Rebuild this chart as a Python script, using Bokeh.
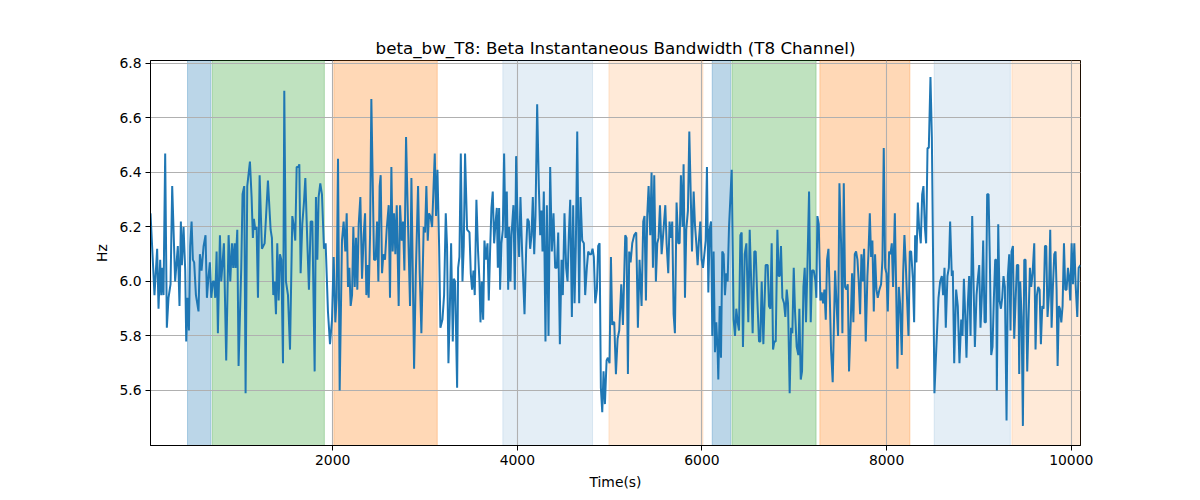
from bokeh.plotting import figure
from bokeh.models import Range1d, BoxAnnotation, FixedTicker
from bokeh.embed import file_html
from bokeh.resources import INLINE

# ---- data: time (s) and beta bandwidth (Hz) ----
t1 = [27, 56, 70, 99, 114, 132, 143, 157, 168, 186, 204, 222, 244, 262, 294, 323, 341, 356, 367, 385,
      403, 414, 428, 443, 457, 472, 486, 500, 519, 547, 562, 580, 602, 623, 638, 656, 670, 685, 703, 717,
      728, 743, 757, 779, 793, 808, 822, 847, 873, 891, 909, 923, 938, 948, 967, 981, 1010, 1024, 1042, 1057,
      1075, 1104, 1122, 1136, 1147, 1162, 1176, 1191, 1209, 1234]
v1 = [6.25, 6.05, 5.95, 6.12, 5.90, 6.08, 5.95, 6.05, 5.95, 6.47, 5.83, 5.94, 5.99, 6.35, 6.00, 6.13, 5.91, 6.22, 6.06, 6.20,
      6.04, 5.78, 5.94, 5.82, 6.13, 6.22, 6.08, 6.07, 5.95, 5.89, 6.10, 6.04, 6.13, 6.17, 5.94, 6.02, 6.07, 5.94, 6.00, 6.00,
      5.94, 6.11, 5.81, 6.17, 6.00, 6.07, 6.14, 5.71, 6.17, 6.00, 6.14, 6.05, 6.14, 6.05, 6.19, 5.69, 6.05, 6.32, 6.35, 5.59,
      6.35, 6.44, 6.31, 6.16, 6.23, 6.19, 6.20, 5.94, 6.39, 6.12]

t2 = [1263, 1299, 1328, 1342, 1357, 1371, 1386, 1400, 1415, 1429, 1444, 1462, 1476, 1494, 1516, 1538, 1563, 1581, 1595, 1610,
      1628, 1639, 1653, 1671, 1689, 1704, 1725, 1743, 1762, 1780, 1805, 1819, 1834, 1848, 1866, 1884, 1906, 1924, 1949, 1971,
      1993, 2011, 2029, 2043, 2058, 2076, 2101, 2119, 2137, 2152, 2166, 2181, 2195, 2210, 2224, 2239, 2253, 2267, 2282, 2300,
      2318, 2336, 2351, 2365, 2380, 2390, 2405, 2419, 2448, 2466, 2481, 2495, 2509]
v2 = [6.14, 6.37, 6.19, 6.16, 5.95, 6.00, 5.88, 6.14, 5.93, 6.10, 6.08, 5.70, 6.70, 6.00, 5.95, 5.75, 6.24, 6.20, 6.15, 6.42,
      6.42, 6.43, 6.03, 6.21, 6.29, 6.38, 6.15, 5.97, 6.22, 6.22, 5.67, 6.31, 6.08, 6.31, 6.36, 6.32, 6.12, 6.14, 5.89, 5.77,
      5.86, 6.09, 5.85, 5.94, 6.45, 5.60, 6.15, 6.22, 6.11, 6.25, 5.98, 6.05, 5.91, 5.95, 6.20, 5.98, 6.16, 5.97, 6.21, 6.31,
      6.01, 6.17, 6.25, 5.95, 6.06, 5.94, 6.17, 6.67, 6.08, 6.08, 6.22, 6.00, 6.35]

t3 = [2520, 2535, 2549, 2567, 2585, 2607, 2621, 2636, 2650, 2665, 2679, 2694, 2715, 2730, 2748, 2762, 2777, 2795, 2817, 2838,
      2853, 2867, 2882, 2900, 2925, 2943, 2961, 2986, 3001, 3015, 3030, 3044, 3059, 3077, 3091, 3106, 3120, 3135, 3153, 3167,
      3189, 3207, 3225, 3239, 3254, 3268, 3283, 3301, 3312, 3326, 3348, 3359, 3373, 3388, 3406, 3420, 3434, 3456, 3482, 3496,
      3510, 3525, 3539, 3557, 3575, 3590, 3601, 3615, 3630, 3644, 3659, 3677, 3691, 3705, 3720, 3734, 3749, 3763]
v3 = [6.39, 6.03, 6.10, 6.08, 6.19, 6.28, 5.94, 6.42, 6.11, 6.25, 6.10, 6.28, 5.91, 6.28, 6.15, 6.22, 6.04, 6.53, 6.20, 5.91,
      6.38, 6.05, 5.68, 6.02, 6.35, 6.03, 5.81, 6.20, 6.18, 6.35, 6.15, 6.25, 6.24, 6.20, 6.33, 6.47, 6.24, 6.41, 6.13, 5.83,
      5.86, 5.95, 6.25, 6.13, 5.70, 5.88, 6.14, 5.78, 6.01, 6.00, 5.61, 6.05, 6.09, 6.47, 6.00, 6.13, 6.47, 6.19, 6.18, 6.03,
      5.97, 6.04, 5.95, 6.30, 6.11, 6.00, 5.85, 6.00, 5.86, 6.15, 6.08, 6.14, 5.93, 6.11, 6.27, 6.33, 6.14, 6.21]

t4 = [3778, 3789, 3803, 3814, 3828, 3843, 3857, 3872, 3886, 3901, 3912, 3926, 3937, 3958, 3973, 3987, 4005, 4020, 4034, 4052,
      4078, 4096, 4110, 4125, 4139, 4154, 4168, 4183, 4197, 4215, 4233, 4248, 4262, 4273, 4287, 4305, 4320, 4338, 4356, 4374,
      4392, 4410, 4428, 4443, 4461, 4479, 4493, 4511, 4529, 4544, 4558, 4573, 4591, 4605, 4620, 4634, 4649, 4670, 4685, 4703,
      4721, 4735, 4753, 4768, 4782, 4800, 4815, 4829, 4844, 4862, 4876, 4891, 4905, 4920, 4934, 4949, 4967, 4981, 4999, 5014,
      5028]
v4 = [6.27, 6.05, 6.27, 5.97, 6.14, 6.19, 6.47, 6.16, 6.33, 5.97, 6.20, 6.00, 6.17, 6.28, 5.97, 6.46, 6.19, 6.09, 6.31, 6.11,
      5.88, 6.12, 6.23, 6.22, 6.12, 6.17, 6.31, 6.10, 6.24, 6.65, 6.35, 6.17, 6.26, 6.11, 6.33, 5.78, 6.28, 5.80, 6.42, 6.11,
      6.25, 6.05, 6.05, 6.18, 5.77, 6.08, 5.95, 6.25, 6.05, 6.00, 6.17, 6.30, 5.87, 6.28, 5.92, 6.13, 6.55, 5.92, 6.31, 6.15,
      6.14, 5.95, 6.05, 6.11, 6.10, 6.10, 6.12, 6.09, 5.92, 5.97, 6.13, 6.14, 5.61, 5.52, 5.67, 5.55, 5.71, 5.72, 5.70, 6.09,
      5.84]

t5 = [5035, 5050, 5068, 5086, 5104, 5126, 5144, 5169, 5183, 5198, 5212, 5227, 5245, 5266, 5288, 5306, 5324, 5346, 5364, 5378,
      5393, 5407, 5422, 5440, 5454, 5469, 5483, 5501, 5516, 5530, 5545, 5563, 5577, 5603, 5617, 5635, 5649, 5664, 5678, 5693,
      5707, 5725, 5743, 5758, 5772, 5790, 5801, 5816, 5830, 5848, 5863, 5881, 5892, 5910, 5924, 5939, 5953, 5967, 5982, 5996,
      6011, 6029, 6040, 6054, 6069, 6083, 6098, 6112, 6126, 6141, 6155, 6170, 6177, 6192, 6206, 6220, 6235, 6249, 6264, 6278,
      6293]
v5 = [5.85, 5.85, 5.66, 5.79, 5.82, 5.99, 5.84, 6.17, 6.16, 5.66, 6.11, 6.07, 6.14, 6.17, 6.18, 5.83, 6.08, 5.91, 6.22, 6.24,
      5.93, 6.24, 6.35, 6.17, 6.40, 6.05, 6.39, 6.00, 6.14, 6.16, 6.28, 6.10, 6.16, 6.28, 6.14, 6.03, 6.22, 6.16, 6.22, 5.88,
      5.81, 6.29, 6.14, 6.14, 6.39, 6.20, 6.43, 5.94, 6.19, 6.26, 6.55, 6.28, 6.11, 6.33, 6.21, 6.14, 6.06, 6.15, 6.22, 6.08,
      6.05, 6.11, 6.15, 6.42, 5.96, 6.19, 6.22, 5.80, 6.11, 5.74, 5.85, 5.74, 5.64, 5.91, 5.72, 6.11, 6.10, 5.95, 6.03, 6.00,
      6.20]

t6 = [6322, 6343, 6358, 6372, 6387, 6401, 6416, 6430, 6444, 6463, 6481, 6502, 6517, 6535, 6549, 6567, 6582, 6600, 6618, 6632,
      6647, 6665, 6690, 6712, 6726, 6741, 6755, 6770, 6784, 6799, 6817, 6831, 6842, 6856, 6871, 6889, 6903, 6918, 6932, 6950,
      6965, 6979, 6994, 7008, 7026, 7044, 7055, 7070, 7084, 7099, 7113, 7127, 7142, 7160, 7178, 7192, 7211, 7229, 7239, 7250,
      7265, 7283, 7297, 7312, 7326, 7341, 7355, 7370, 7384, 7398, 7416, 7442, 7456, 7474, 7489, 7507, 7521, 7536]
v6 = [6.41, 5.86, 5.80, 5.90, 5.85, 5.82, 6.17, 6.18, 5.76, 6.10, 6.14, 5.85, 6.19, 5.98, 5.81, 6.11, 6.11, 5.93, 5.78, 5.78,
      6.00, 5.77, 6.06, 6.06, 5.91, 5.90, 6.14, 5.75, 5.78, 5.78, 6.19, 6.02, 6.02, 6.13, 5.94, 5.92, 5.87, 5.97, 5.92, 5.59,
      5.83, 5.81, 6.05, 5.89, 5.76, 5.73, 5.90, 5.64, 5.67, 5.98, 6.05, 5.85, 6.05, 6.33, 5.85, 6.04, 6.04, 6.00, 5.94, 6.24,
      6.21, 5.93, 5.96, 5.92, 5.97, 5.86, 6.08, 6.12, 5.95, 5.75, 5.63, 6.04, 5.93, 5.80, 6.36, 6.14, 5.81, 6.36]

t7 = [7550, 7565, 7579, 7593, 7612, 7626, 7640, 7655, 7669, 7684, 7698, 7713, 7727, 7742, 7756, 7774, 7792, 7803, 7818, 7832,
      7846, 7861, 7875, 7890, 7904, 7922, 7940, 7955, 7969, 7984, 7998, 8013, 8027, 8042, 8056, 8070, 8089, 8103, 8117, 8132,
      8146, 8164, 8179, 8193, 8208, 8222, 8237, 8251, 8266, 8284, 8298, 8309, 8323, 8338, 8352, 8370, 8385, 8399, 8414, 8428,
      8443, 8457, 8475, 8490, 8504, 8518, 8540, 8562, 8580, 8598, 8612, 8627, 8641, 8659, 8674, 8688, 8706, 8717, 8732, 8753,
      8771, 8789]
v7 = [5.98, 5.97, 5.99, 5.67, 5.86, 6.03, 5.85, 6.10, 6.11, 6.08, 6.00, 5.88, 6.10, 6.00, 6.12, 5.78, 6.02, 6.10, 6.25, 6.09,
      6.15, 5.89, 6.10, 5.97, 5.94, 5.97, 5.99, 6.08, 6.49, 6.05, 6.03, 5.89, 6.11, 6.10, 6.14, 5.98, 6.25, 5.98, 5.68, 5.98,
      5.92, 5.73, 6.03, 6.17, 6.06, 5.93, 5.80, 6.11, 6.11, 6.01, 5.85, 6.17, 6.07, 6.29, 6.20, 6.14, 6.32, 6.35, 6.20, 6.14,
      6.49, 6.49, 6.75, 6.53, 6.06, 5.59, 5.77, 5.94, 6.00, 6.02, 5.95, 6.05, 5.83, 6.02, 6.05, 6.22, 6.02, 6.04, 5.70, 5.97,
      5.91, 5.70]

t8 = [8808, 8822, 8837, 8851, 8865, 8880, 8894, 8909, 8927, 8945, 8956, 8974, 8988, 9003, 9017, 9032, 9046, 9061, 9075, 9089,
      9104, 9118, 9133, 9147, 9162, 9176, 9187, 9194, 9209, 9223, 9238, 9252, 9266, 9281, 9299, 9313, 9328, 9342, 9353, 9368,
      9382, 9397, 9411, 9426, 9436, 9447, 9462, 9476, 9491, 9505, 9523, 9537, 9552, 9566, 9581, 9599, 9613, 9628, 9642, 9657,
      9671, 9686, 9700, 9715, 9729, 9743, 9758, 9772, 9787, 9801, 9816, 9830, 9841, 9852, 9866, 9877, 9892, 9906, 9921, 9935,
      9949, 9964, 9975, 9989, 10004, 10018, 10033, 10047, 10065, 10080, 10100]
v8 = [5.86, 5.80, 6.01, 5.88, 5.72, 5.92, 6.02, 5.80, 6.24, 5.94, 5.76, 5.95, 6.01, 6.06, 5.83, 5.95, 6.15, 5.85, 5.85, 6.32,
      6.32, 6.08, 5.73, 5.76, 5.94, 6.08, 6.08, 5.60, 6.21, 5.93, 5.90, 5.94, 6.02, 5.98, 5.49, 6.02, 6.10, 5.82, 6.11, 6.13,
      5.79, 5.93, 6.06, 6.06, 5.66, 6.00, 5.87, 5.47, 6.08, 6.08, 5.67, 5.86, 6.05, 5.98, 6.03, 6.14, 5.75, 5.95, 5.98, 5.97,
      5.77, 5.91, 5.90, 6.13, 6.13, 5.87, 5.95, 6.19, 5.83, 5.98, 6.10, 6.11, 5.97, 5.69, 5.91, 5.90, 5.85, 5.91, 6.14, 5.97,
      5.97, 6.05, 6.02, 5.93, 6.14, 5.99, 6.14, 5.99, 5.87, 6.05, 6.06]

time_s = t1 + t2 + t3 + t4 + t5 + t6 + t7 + t8
beta_bw = v1 + v2 + v3 + v4 + v5 + v6 + v7 + v8

# shaded segments
span_start = [428, 697, 2013, 3843, 4992, 6111, 6326, 7277, 8515, 9357]
span_end = [682, 1910, 3133, 4815, 6011, 6312, 7236, 8252, 9340, None]
span_color = ["#1f77b4", "#2ca02c", "#ff7f0e", "#1f77b4", "#ff7f0e",
              "#1f77b4", "#2ca02c", "#ff7f0e", "#1f77b4", "#ff7f0e"]
span_alpha = [0.3, 0.3, 0.3, 0.12, 0.16, 0.3, 0.3, 0.3, 0.12, 0.16]

x_ticks = [2000, 4000, 6000, 8000, 10000]
x_tick_labels = ["2000", "4000", "6000", "8000", "10000"]
y_ticks = [5.6, 5.8, 6.0, 6.2, 6.4, 6.6, 6.8]
y_tick_labels = ["5.6", "5.8", "6.0", "6.2", "6.4", "6.6", "6.8"]

FONT = "DejaVu Sans"

p = figure(width=1200, height=500, output_backend="svg", toolbar_location=None,
           x_range=Range1d(27, 10100), y_range=Range1d(5.398, 6.811),
           min_border_left=150, min_border_right=120, min_border_top=60, min_border_bottom=55,
           title="beta_bw_T8: Beta Instantaneous Bandwidth (T8 Channel)")
p.background_fill_color = "white"
p.border_fill_color = "white"

p.title.align = "center"
p.title.text_font = FONT
p.title.text_font_size = "16.7px"
p.title.text_font_style = "normal"
p.title.text_color = "black"
p.title.standoff = 6

for s, e, c, a in zip(span_start, span_end, span_color, span_alpha):
    p.add_layout(BoxAnnotation(left=s, right=e, fill_color=c, fill_alpha=a,
                               line_color=c, line_alpha=a, line_width=1, level="image"))

p.line(time_s, beta_bw, line_color="#1f77b4", line_width=2)

p.xaxis.ticker = FixedTicker(ticks=x_ticks)
p.yaxis.ticker = FixedTicker(ticks=y_ticks)
p.xaxis.major_label_overrides = {t: l for t, l in zip(x_ticks, x_tick_labels)}
p.yaxis.major_label_overrides = {t: l for t, l in zip(y_ticks, y_tick_labels)}

p.xaxis.axis_label = "Time(s)"
p.yaxis.axis_label = "Hz"
for ax in (p.xaxis[0], p.yaxis[0]):
    ax.axis_label_text_font = FONT
    ax.axis_label_text_font_size = "13.9px"
    ax.axis_label_text_font_style = "normal"
    ax.axis_label_text_color = "black"
    ax.axis_label_standoff = 6
    ax.major_label_text_font = FONT
    ax.major_label_text_font_size = "13.9px"
    ax.major_label_text_color = "black"
    ax.major_label_standoff = 4
    ax.major_tick_out = 5
    ax.major_tick_in = 0
    ax.minor_tick_out = 0
    ax.minor_tick_in = 0
    ax.axis_line_color = "black"
    ax.major_tick_line_color = "black"

p.grid.grid_line_color = "#b0b0b0"
p.grid.grid_line_width = 1.1
p.grid.grid_line_alpha = 1.0

p.outline_line_color = "black"
p.outline_line_width = 1
p.outline_line_alpha = 1.0

open("out.html", "w").write(file_html(p, INLINE))
